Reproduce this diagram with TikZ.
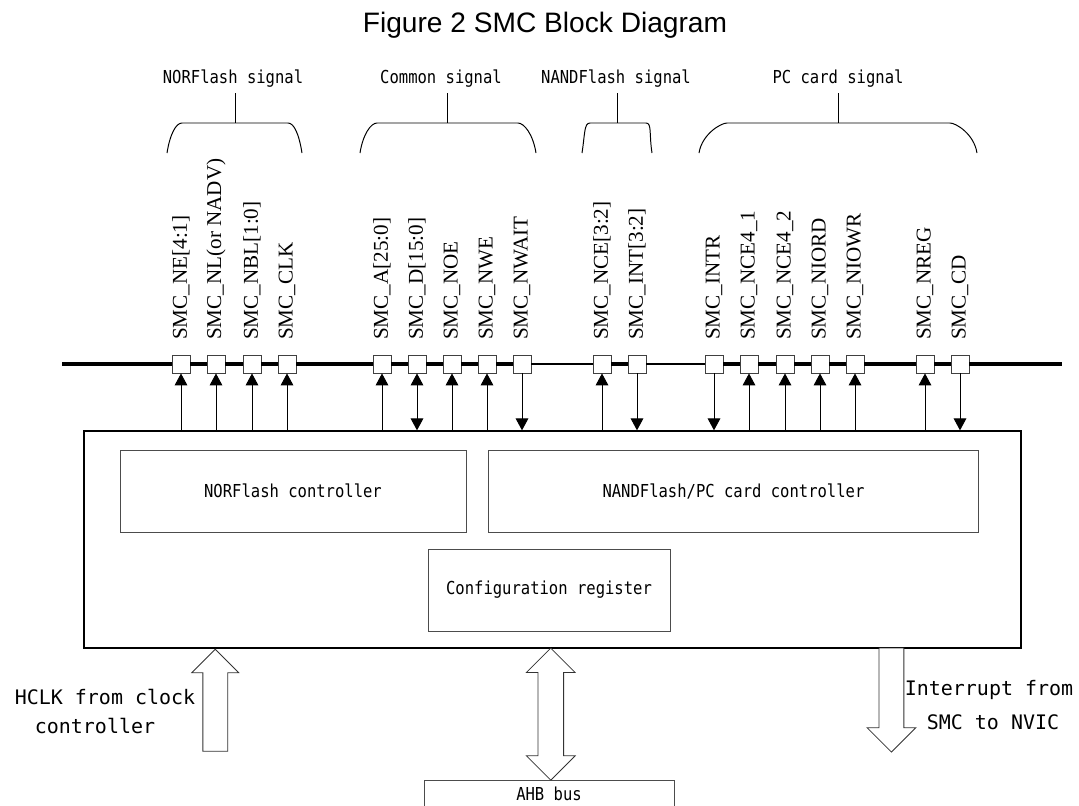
\documentclass[tikz,border=0pt]{standalone}
\usepackage{fontspec}
\usetikzlibrary{positioning,arrows.meta,shapes.arrows,calc}
\newfontfamily\sigfont{Liberation Serif}
\newfontfamily\lblfont[FakeStretch=0.87]{DejaVu Sans Mono}
\newfontfamily\notefont{DejaVu Sans Mono}
\newfontfamily\headfont{Liberation Sans}

\begin{document}
\begin{tikzpicture}[x=0.025cm,y=-0.025cm,
  pin/.style={draw=black!75, fill=white, line width=0.6pt, minimum size=0.45cm, inner sep=0pt},
  siglabel/.style={rotate=90, anchor=west, inner sep=0pt, font=\sigfont\fontsize{15}{18}\selectfont},
  grplabel/.style={inner sep=1pt, font=\lblfont\fontsize{12.7}{15}\selectfont},
  block/.style={draw=black!70, line width=0.6pt, minimum height=2.05cm, inner sep=0pt, font=\lblfont\fontsize{12.7}{15}\selectfont},
  note/.style={inner sep=0pt, font=\notefont\fontsize{14.2}{17}\selectfont},
  bus/.style={line width=2.2pt},
  thinbus/.style={line width=1.2pt},
  pinup/.style={line width=0.7pt, -{Triangle[width=9pt,length=8.5pt]}},
  pindown/.style={line width=0.7pt, {Triangle[width=9pt,length=8.5pt]}-},
  pinboth/.style={line width=0.7pt, {Triangle[width=9pt,length=8.5pt]}-{Triangle[width=9pt,length=8.5pt]}},
  hollow/.style={draw=black!80, fill=white, line width=0.6pt, minimum width=0pt}
]
\useasboundingbox (0,0) rectangle (1079,805);

\node[font=\headfont\fontsize{20}{24}\selectfont, anchor=base] (title) at (545,32) {Figure 2 SMC Block Diagram};

% signal groups
\foreach \g/\n/\c/\a/\b/\e/\f/\s in {nor/NORFlash signal/233/167/182/288/302/235,
    com/Common signal/441/360/377/518/536/447,
    nand/NANDFlash signal/616/582/590/646/652/617,
    pc/PC card signal/838/699/727/950/977/838} {
  \node[grplabel] (g\g) at (\c,79) {\n};
  \draw[line width=0.7pt] (\s,93) -- (\s,123);
  \draw[line width=0.7pt] (\a,153) .. controls (\a+3,134) and (\b-6,123) .. (\b,123) -- (\e,123)
     .. controls (\e+6,123) and (\f-3,134) .. (\f,153);
}

\node[draw, line width=0.9pt, minimum width=23.425cm, minimum height=5.425cm, inner sep=0pt] (ctrl) at (552.5,539.5) {};

% pins on the bus
\foreach \i/\x/\t/\d in {1/181/SMC\_NE[4:1]/pinup, 2/216/SMC\_NL(or NADV)/pinup,
    3/252/SMC\_NBL[1:0]/pinup, 4/287/SMC\_CLK/pinup,
    5/382/SMC\_A[25:0]/pinup, 6/417/SMC\_D[15:0]/pinboth, 7/452/SMC\_NOE/pinup,
    8/487/SMC\_NWE/pinup, 9/522/SMC\_NWAIT/pindown,
    10/602/SMC\_NCE[3:2]/pinup, 11/637/SMC\_INT[3:2]/pindown,
    12/714/SMC\_INTR/pindown, 13/749/SMC\_NCE4\_1/pinup, 14/785/SMC\_NCE4\_2/pinup,
    15/820/SMC\_NIORD/pinup, 16/855/SMC\_NIOWR/pinup,
    17/925/SMC\_NREG/pinup, 18/960/SMC\_CD/pindown} {
  \node[pin] (s\i) at (\x,364) {};
  \node[siglabel] (t\i) at (\x,340) {\t};
  \draw[\d] (ctrl.north -| s\i) -- (s\i.south);
}

\coordinate (busL) at (62,364);
\coordinate (busR) at (1062,364);
\draw[bus] (busL) -- (s1);
\draw[bus] (s18) -- (busR);
\foreach \p/\q in {1/2,2/3,3/4,4/5,5/6,6/7,7/8,8/9,10/11,12/13,13/14,14/15,15/16,16/17,17/18}
  \draw[bus] (s\p) -- (s\q);
\draw[thinbus] (s9) -- (s10);
\draw[thinbus] (s11) -- (s12);

% blocks inside the controller
\node[block, minimum width=8.65cm] (norc) at (293,491) {NORFlash controller};
\node[block, minimum width=12.225cm, right=0.55cm of norc] (nandc) {NANDFlash/PC card controller};
\node[block, minimum width=6.05cm] (cfg) at (549,590) {Configuration register};
\node[block, minimum width=6.25cm, minimum height=0.7cm] (ahb) at (549,794) {AHB bus};

% big arrows
\node[hollow, single arrow, shape border rotate=90, minimum height=2.55cm, inner sep=0.3cm,
  single arrow head extend=0.275cm, anchor=tip] (hclk) at ([xshift=3.3cm]ctrl.south west) {};
\node[hollow, single arrow, shape border rotate=270, minimum height=2.6cm, inner sep=0.3cm,
  single arrow head extend=0.3cm, anchor=tip] (irq) at ([xshift=20.2cm,yshift=-2.6cm]ctrl.south west) {};
\node[hollow, double arrow, shape border rotate=90, minimum height=3.3cm, inner sep=0.31cm,
  double arrow head extend=0.29cm] (ahbarrow) at ($(ctrl.south)!0.5!(ahb.north)$) {};

\node[note] (hclktxt) at (105,697) {HCLK from clock};
\node[note] (hclktxt2) at (95,726) {controller};
\node[note] (irqtxt) at (989,690) {Interrupt from};
\node[note] (irqtxt2) at (993,722) {SMC to NVIC};

\end{tikzpicture}
\end{document}
